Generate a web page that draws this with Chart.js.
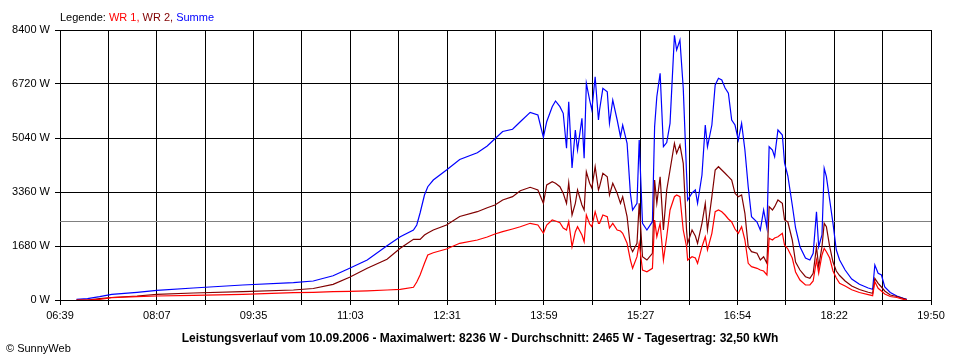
<!DOCTYPE html>
<html>
<head>
<meta charset="utf-8">
<script src="https://cdn.jsdelivr.net/npm/chart.js@4"></script>
<style>
  html, body { margin: 0; padding: 0; background: #fff; }
  #chart { display: block; }
</style>
</head>
<body>
<canvas id="chart" width="960" height="360"></canvas>
<script>
// Messzeitpunkte
var times = [
  "06:54", "07:04", "07:15", "07:26", "07:49", "08:07", "08:40", "09:25", "10:11", "10:29",
  "10:47", "11:02", "11:18", "11:36", "11:48", "12:00", "12:03", "12:06", "12:10", "12:13",
  "12:18", "12:30", "12:42", "12:58", "13:07", "13:14", "13:21", "13:30", "13:37", "13:46",
  "13:53", "13:58", "14:01", "14:06", "14:09", "14:13", "14:16", "14:19", "14:21", "14:24",
  "14:27", "14:29", "14:33", "14:35", "14:37", "14:40", "14:42", "14:45", "14:48", "14:49",
  "14:52", "14:56", "14:58", "15:01", "15:05", "15:08", "15:10", "15:14", "15:17", "15:19",
  "15:23", "15:25", "15:28", "15:32", "15:37", "15:39", "15:41", "15:44", "15:47", "15:50",
  "15:53", "15:57", "15:59", "16:02", "16:05", "16:08", "16:09", "16:13", "16:16", "16:18",
  "16:22", "16:25", "16:27", "16:31", "16:34", "16:37", "16:40", "16:43", "16:46", "16:49",
  "16:52", "16:55", "16:58", "17:01", "17:04", "17:07", "17:12", "17:15", "17:18", "17:21",
  "17:23", "17:26", "17:28", "17:31", "17:35", "17:37", "17:40", "17:44", "17:47", "17:51",
  "17:56", "18:00", "18:03", "18:06", "18:08", "18:11", "18:13", "18:15", "18:18", "18:21",
  "18:24", "18:27", "18:32", "18:38", "18:45", "18:53", "18:57", "18:59", "19:02", "19:05",
  "19:08", "19:13", "19:19", "19:25", "19:28"
];

// Leistung in W
var wr1 = [
  0, 0, 22, 72, 103, 124, 146, 177, 227, 240,
  258, 271, 286, 311, 333, 395, 560, 778, 1142, 1400,
  1471, 1587, 1764, 1867, 1960, 2053, 2125, 2209, 2280, 2386,
  2333, 2075, 2333, 2489, 2458, 2405, 2240, 2178, 2436, 1658,
  2125, 2280, 2022, 1814, 2644, 2364, 2280, 2747, 2386, 2386,
  2644, 2591, 2240, 2386, 2178, 2147, 2075, 1764, 1244, 986,
  1347, 1764, 933, 880, 986, 2489, 1969, 2386, 1244, 1969,
  2800, 3214, 3267, 3214, 2178, 1658, 1244, 1347, 1307, 1142,
  1658, 1969, 1556, 2075, 2747, 2800, 2747, 2644, 2520, 2427,
  2209, 2075, 2280, 1867, 1142, 1036, 986, 933, 902, 778,
  1919, 1867, 1929, 1969, 2075, 1711, 1587, 1307, 871, 622,
  467, 467, 591, 1244, 831, 1400, 1608, 1503, 1307, 902,
  684, 520, 436, 320, 233, 165, 134, 569, 364, 280,
  187, 109, 78, 22, 0
];
var wr2 = [
  0, 0, 40, 78, 124, 177, 218, 258, 311, 358,
  488, 706, 986, 1266, 1608, 1888, 1888, 1888, 2022, 2084,
  2178, 2333, 2598, 2747, 2871, 2955, 3111, 3214, 3400, 3506,
  3422, 3008, 3578, 3680, 3631, 3525, 3319, 3008, 3649, 2644,
  3008, 3422, 2955, 2800, 3991, 3631, 3484, 4147, 3422, 3525,
  3942, 3836, 3267, 3631, 3319, 3008, 3214, 2591, 1658, 1503,
  1764, 3008, 1347, 1244, 1453, 3733, 3008, 3836, 2178, 3422,
  4044, 4875, 4564, 4822, 4253, 2178, 1764, 2178, 1991, 1764,
  2386, 3008, 2178, 3214, 4044, 4147, 4044, 3942, 3836, 3733,
  3319, 3214, 3267, 2697, 1658, 1503, 1453, 1244, 1347, 1142,
  2903, 2800, 2903, 3111, 3008, 2489, 2427, 1867, 1182, 933,
  725, 675, 831, 1658, 1036, 1658, 2386, 2280, 1658, 1182,
  902, 762, 591, 436, 327, 240, 208, 675, 520, 404,
  280, 156, 109, 47, 16
];
var summe = [
  22, 40, 103, 177, 240, 302, 373, 467, 538, 591,
  753, 986, 1244, 1689, 1969, 2178, 2333, 2707, 3267, 3525,
  3733, 4044, 4371, 4582, 4791, 5018, 5242, 5311, 5547, 5839,
  5755, 5062, 5547, 6014, 6191, 6014, 5808, 4719, 6169, 4107,
  5289, 4667, 5653, 4408, 6742, 6222, 5911, 6947, 5600, 5911,
  6586, 6480, 5497, 6222, 5600, 5080, 5444, 4875, 3319, 2800,
  3008, 4978, 2386, 2178, 2436, 5391, 6325, 7053, 4769, 4900,
  5497, 8236, 7778, 8089, 6595, 3942, 3111, 3329, 3422, 3008,
  3889, 5444, 4769, 5444, 6689, 6897, 6844, 6595, 6431, 5600,
  5444, 4978, 5497, 4667, 3525, 2591, 2427, 2178, 2800, 2240,
  4769, 4667, 4458, 5289, 5133, 4262, 3858, 2955, 2240, 1658,
  1307, 1244, 1453, 2747, 1658, 2022, 4097, 3836, 3111, 2386,
  1556, 1244, 933, 653, 488, 373, 333, 1089, 831, 778,
  404, 233, 124, 53, 22
];

var tickLabels = ["06:39", "08:07", "09:35", "11:03", "12:31", "13:59", "15:27", "16:54", "18:22", "19:50"];
var yTicks = [0, 1680, 3360, 5040, 6720, 8400];
var durchschnitt = 2465;

function toMin(t) {
  var p = t.split(":");
  return parseInt(p[0], 10) * 60 + parseInt(p[1], 10);
}

var xMin = toMin(tickLabels[0]);
var xMax = toMin(tickLabels[tickLabels.length - 1]);

function points(arr) {
  return times.map(function (t, i) { return { x: toMin(t), y: arr[i] }; });
}

var FONT = "'Liberation Sans', Arial, sans-serif";

// Legende, Durchschnittslinie und Fusszeilen
var textPlugin = {
  id: "texte",
  beforeDatasetsDraw: function (chart) {
    var ctx = chart.ctx, a = chart.chartArea;
    var y = Math.round(chart.scales.y.getPixelForValue(durchschnitt)) + 0.5;
    ctx.save();
    ctx.strokeStyle = "#808080";
    ctx.lineWidth = 1;
    ctx.beginPath();
    ctx.moveTo(a.left, y);
    ctx.lineTo(a.right, y);
    ctx.stroke();
    ctx.restore();
  },
  afterDraw: function (chart) {
    var ctx = chart.ctx;
    ctx.save();
    ctx.font = "11px " + FONT;
    ctx.textBaseline = "alphabetic";
    var parts = [
      ["Legende: ", "#000000"],
      ["WR 1, ", "#ff0000"],
      ["WR 2, ", "#800000"],
      ["Summe", "#0000ff"]
    ];
    var x = 60;
    parts.forEach(function (p) {
      ctx.fillStyle = p[1];
      ctx.fillText(p[0], x, 21);
      x += ctx.measureText(p[0]).width;
    });

    ctx.fillStyle = "#000";
    ctx.font = "bold 12px " + FONT;
    ctx.textAlign = "center";
    ctx.fillText("Leistungsverlauf vom 10.09.2006 - Maximalwert: 8236 W - Durchschnitt: 2465 W - Tagesertrag: 32,50 kWh", 480, 342);

    ctx.font = "11px " + FONT;
    ctx.textAlign = "left";
    ctx.fillText("\u00a9 SunnyWeb", 6, 352);
    ctx.restore();
  }
};

var ctx = document.getElementById("chart").getContext("2d");
var chart = new Chart(ctx, {
  type: "line",
  data: {
    datasets: [
      { label: "WR 1", data: points(wr1), borderColor: "#ff0000" },
      { label: "WR 2", data: points(wr2), borderColor: "#800000" },
      { label: "Summe", data: points(summe), borderColor: "#0000ff" }
    ]
  },
  options: {
    responsive: false,
    animation: false,
    events: [],
    layout: { padding: { top: 30, right: 29, bottom: 0, left: 0 } },
    elements: {
      line: { borderWidth: 1.2, tension: 0, fill: false },
      point: { radius: 0 }
    },
    plugins: {
      legend: { display: false },
      tooltip: { enabled: false }
    },
    scales: {
      x: {
        type: "linear",
        min: xMin,
        max: xMax,
        afterBuildTicks: function (axis) {
          var t = [];
          for (var i = 0; i <= 18; i++) t.push({ value: xMin + i * (xMax - xMin) / 18 });
          axis.ticks = t;
        },
        afterFit: function (scale) { scale.height = 60; },
        grid: { color: "#000", lineWidth: 1, tickLength: 5, tickColor: "#000" },
        border: { display: true, color: "#000", width: 1 },
        ticks: {
          autoSkip: false,
          maxRotation: 0,
          padding: 4,
          color: "#000",
          font: { family: FONT, size: 11 },
          callback: function (v, i) { return i % 2 === 0 ? tickLabels[i / 2] : ""; }
        }
      },
      y: {
        min: 0,
        max: 8400,
        afterBuildTicks: function (axis) {
          axis.ticks = yTicks.map(function (v) { return { value: v }; });
        },
        afterFit: function (scale) { scale.width = 60; },
        grid: { color: "#000", lineWidth: 1, tickLength: 5, tickColor: "#000" },
        border: { display: true, color: "#000", width: 1 },
        ticks: {
          padding: 5,
          color: "#000",
          font: { family: FONT, size: 11 },
          callback: function (v) { return v + " W"; }
        }
      }
    }
  },
  plugins: [textPlugin]
});
</script>
</body>
</html>
